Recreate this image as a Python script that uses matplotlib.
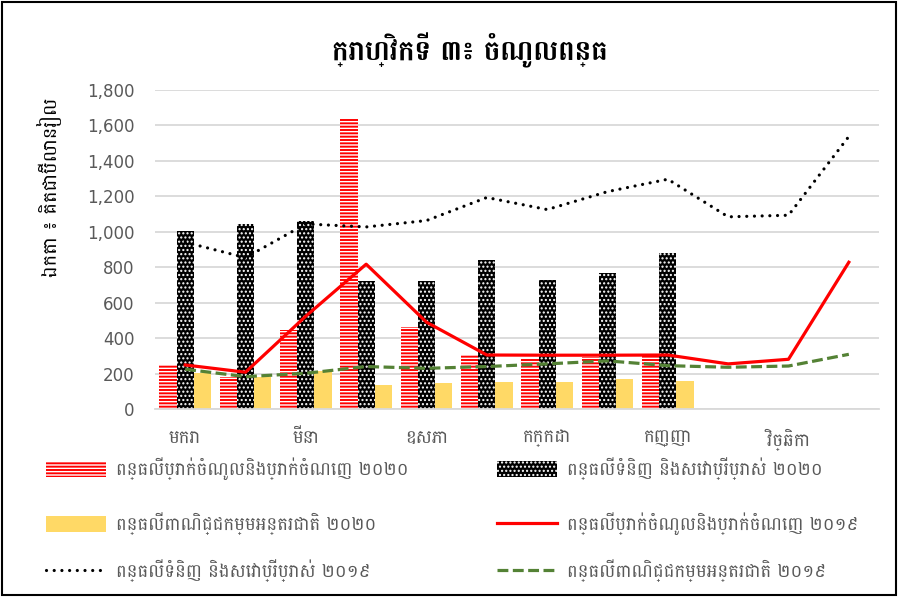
import matplotlib
matplotlib.use('Agg')
import matplotlib.pyplot as plt
from matplotlib.patches import Patch, Rectangle
from matplotlib.lines import Line2D
import numpy as np

months = ["មករា", "កុម្ភៈ", "មីនា", "មេសា", "ឧសភា", "មិថុនា",
          "កក្កដា", "សីហា", "កញ្ញា", "តុលា", "វិច្ឆិកា", "ធ្នូ"]
income_2020 = [248, 183, 447, 1635, 464, 306, 290, 295, 300]
goods_2020 = [1005, 1045, 1062, 722, 724, 842, 729, 769, 883]
trade_2020 = [207, 184, 216, 137, 150, 156, 156, 171, 158]
income_2019 = [250, 209, 525, 818, 491, 306, 305, 305, 306, 256, 282, 829]
goods_2019 = [942, 855, 1045, 1028, 1064, 1194, 1126, 1227, 1297, 1085, 1094, 1538]
trade_2019 = [226, 184, 203, 241, 231, 241, 256, 273, 246, 237, 244, 310]
yticks = [0, 200, 400, 600, 800, 1000, 1200, 1400, 1600, 1800]

title = "ក្រាហ្វិកទី ៣៖ ចំណូលពន្ធ"
ylabel = "ឯកតា ៖ គិតជាប៊ីលានរៀល"
labels = ["ពន្ធលើប្រាក់ចំណូលនិងប្រាក់ចំណេញ ២០២០",
          "ពន្ធលើទំនិញ និងសេវាប្រើប្រាស់ ២០២០",
          "ពន្ធលើពាណិជ្ជកម្មអន្តរជាតិ ២០២០",
          "ពន្ធលើប្រាក់ចំណូលនិងប្រាក់ចំណេញ ២០១៩",
          "ពន្ធលើទំនិញ និងសេវាប្រើប្រាស់ ២០១៩",
          "ពន្ធលើពាណិជ្ជកម្មអន្តរជាតិ ២០១៩"]

KH = ['Battambang', 'DejaVu Sans']
RED = '#FF0000'
YEL = '#FFD966'
GRN = '#548235'
GRAY = '#595959'

plt.rcParams['hatch.linewidth'] = 1.0
W, H = 898, 597
fig = plt.figure(figsize=(W / 100, H / 100), dpi=100)
ax = fig.add_axes([155 / W, 1 - 409.3 / H, 724 / W, 319.3 / H])

x = np.arange(len(months))
bw = 0.287
n20 = len(income_2020)
ax.bar(x[:n20] - bw, income_2020, bw, color=RED, edgecolor='white', linewidth=0,
       hatch='-----', zorder=2)
ax.bar(x[:n20], goods_2020, bw, color='black', edgecolor='white', linewidth=0,
       hatch='....', zorder=2)
ax.bar(x[:n20] + bw, trade_2020, bw, color=YEL, linewidth=0, zorder=2)

red_kw = dict(color=RED, lw=2.3)
dot_kw = dict(color='black', lw=2.3, linestyle=(0, (0.01, 2.4)), dash_capstyle='round')
dash_kw = dict(color=GRN, lw=2.3, linestyle=(0, (3.4, 1.4)), dash_capstyle='butt')
ax.plot(x, income_2019, zorder=4, **red_kw)
ax.plot(x, goods_2019, zorder=4, **dot_kw)
ax.plot(x, trade_2019, zorder=4, **dash_kw)

ax.set_xlim(-0.5, len(months) - 0.5)
ax.set_ylim(0, 1800)
ax.set_yticks(yticks)
ax.set_yticklabels([f"{v:,}" for v in yticks])
ax.set_xticks(x[::2])
ax.set_xticklabels(months[::2], family=KH, fontsize=13)
ax.tick_params(axis='both', length=0, colors=GRAY)
ax.tick_params(axis='y', labelsize=12, pad=14.5)
ax.tick_params(axis='x', pad=14)
ax.grid(axis='y', color='#D9D9D9', lw=1.3, zorder=0)
ax.set_axisbelow(True)
for s in ['top', 'right', 'left']:
    ax.spines[s].set_visible(False)
ax.spines['bottom'].set_color('#D9D9D9')
ax.spines['bottom'].set_linewidth(1.3)

fig.text(470 / W, 1 - 50 / H, title, ha='center', va='center', fontsize=20,
         fontweight='bold', color='black', family=KH)
fig.text(50 / W, 1 - 187 / H, ylabel, ha='center', va='center', rotation=90,
         fontsize=14, color='black', family=KH)

h_bar1 = Patch(facecolor=RED, edgecolor='white', linewidth=0, hatch='-----')
h_bar2 = Patch(facecolor='black', edgecolor='white', linewidth=0, hatch='....')
h_bar3 = Patch(facecolor=YEL, linewidth=0)
h_l1 = Line2D([], [], **red_kw)
h_l2 = Line2D([], [], **dot_kw)
h_l3 = Line2D([], [], **dash_kw)

entries = [(h_bar1, labels[0], 46, 469), (h_bar2, labels[1], 497, 469),
           (h_bar3, labels[2], 46, 524), (h_l1, labels[3], 497, 524),
           (h_l2, labels[4], 46, 571), (h_l3, labels[5], 497, 571)]
leg_kw = dict(frameon=False, prop={'family': KH, 'size': 13}, labelcolor=GRAY,
              handlelength=3.35, handleheight=0.95, handletextpad=0.55,
              borderpad=0, borderaxespad=0, loc='center left')
for h, lab, lx, ly in entries:
    fig.legend([h], [lab], bbox_to_anchor=(lx / W, 1 - ly / H), **leg_kw)

fig.patches.append(Rectangle((2 / W, 2 / H), 894 / W, 593 / H, transform=fig.transFigure,
                             fill=False, edgecolor='black', lw=1.5))

fig.savefig('out.png', dpi=100)
